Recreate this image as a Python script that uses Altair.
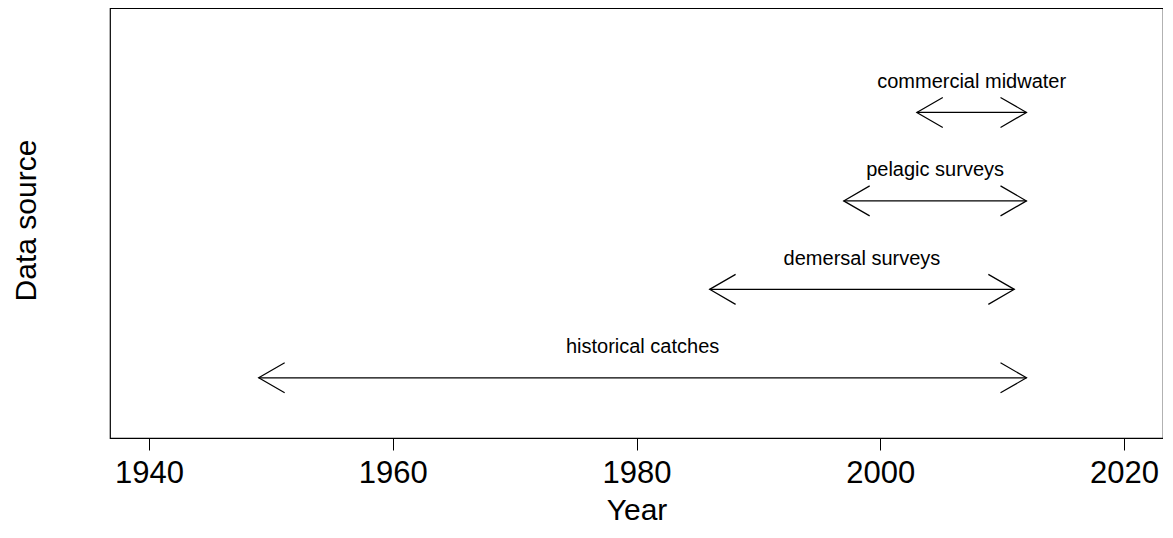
import altair as alt
import pandas as pd

sources = ["historical catches", "demersal surveys", "pelagic surveys", "commercial midwater"]
start_year = [1949, 1986, 1997, 2003]
end_year = [2012, 2011, 2012, 2012]
level = [1, 2, 3, 4]
x_ticks = [1940, 1960, 1980, 2000, 2020]

df = pd.DataFrame({"source": sources, "start": start_year, "end": end_year, "level": level})

FONT = "Liberation Sans"
xscale = alt.Scale(domain=[1936.8, 2023.2], nice=False, zero=False)
yscale = alt.Scale(domain=[0.32, 5.18], nice=False, zero=False)

base = alt.Chart(df)

xaxis = alt.Axis(
    values=x_ticks, format="d", domain=False, grid=False,
    ticks=True, tickSize=12, tickColor="black", tickWidth=1,
    labelFontSize=31, labelFont=FONT, labelColor="black",
    labelBaseline="alphabetic", labelPadding=32, labelFlush=False,
    title="Year", titleFontSize=30, titleFont=FONT, titleFontWeight="normal",
    titleColor="black", titleBaseline="alphabetic", titleX=526.5, titleY=81.5,
    titleAnchor="middle", titleAlign="center",
)
yaxis = alt.Axis(
    labels=False, ticks=False, domain=False, grid=False,
    title="Data source", titleFontSize=30, titleFont=FONT, titleFontWeight="normal",
    titleColor="black", titleAngle=270, titleBaseline="alphabetic",
    titleX=-74.5, titleY=212, titleAlign="center",
)

shafts = base.mark_rule(color="black", strokeWidth=1.2).encode(
    x=alt.X("start:Q", scale=xscale, axis=xaxis),
    x2="end:Q",
    y=alt.Y("level:Q", scale=yscale, axis=yaxis),
)

heads = base.transform_fold(["start", "end"], as_=["side", "year"]).transform_calculate(
    ang="datum.side == 'start' ? 180 : 0"
).mark_point(
    shape="M -1.732 -1 L 0 0 L -1.732 1", filled=False, color="black",
    strokeWidth=1.2, size=900, opacity=1,
).encode(
    x=alt.X("year:Q", scale=xscale),
    y=alt.Y("level:Q", scale=yscale),
    angle=alt.Angle("ang:Q", scale=None),
)

labels = base.transform_calculate(mid="(datum.start + datum.end) / 2").mark_text(
    font=FONT, fontSize=20, color="black", baseline="alphabetic", align="center", dy=-24.5,
).encode(
    x=alt.X("mid:Q", scale=xscale),
    y=alt.Y("level:Q", scale=yscale),
    text="source:N",
)

chart = alt.layer(shafts, heads, labels).properties(
    width=1053, height=430,
    autosize=alt.AutoSizeParams(type="none"),
    padding={"left": 102, "top": 0, "right": 0, "bottom": 88},
    background="white",
).configure_view(stroke="black", strokeWidth=1.2)

chart.save("out.html", embed_options={"renderer": "svg", "actions": False})
